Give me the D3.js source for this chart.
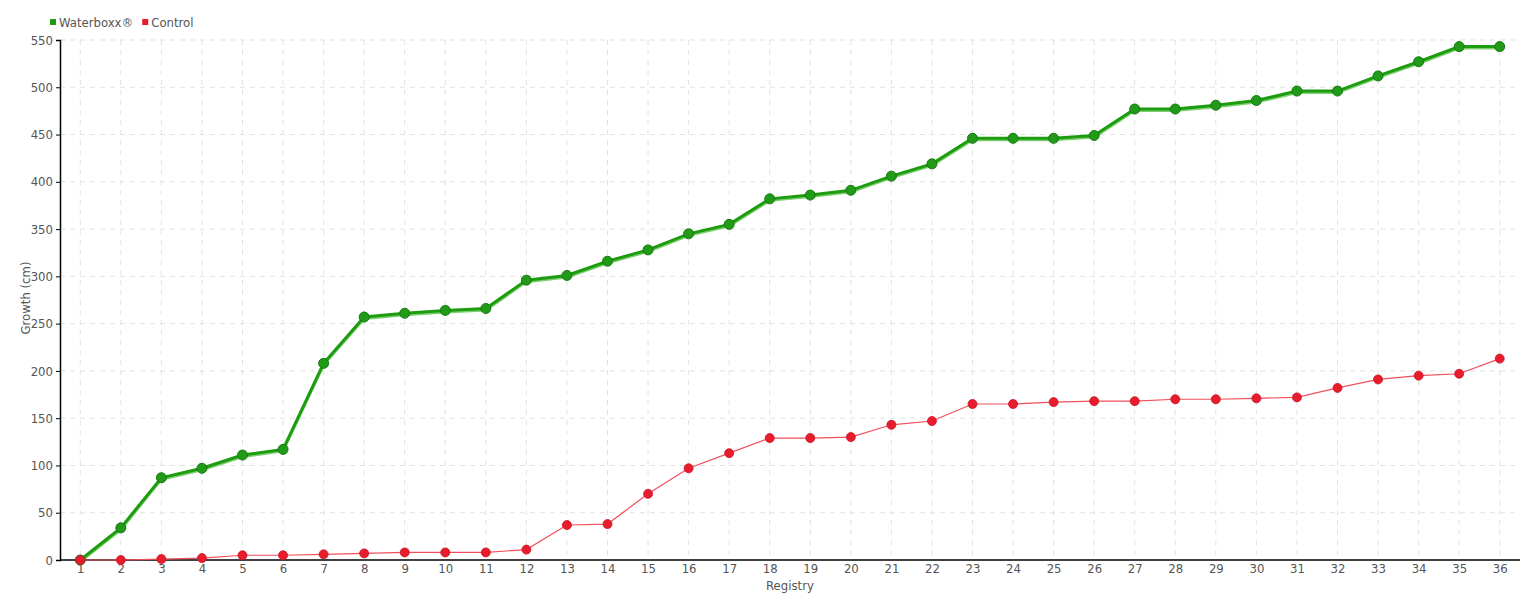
<!DOCTYPE html>
<html><head><meta charset="utf-8">
<script src="https://cdn.jsdelivr.net/npm/d3@7"></script>
<style>
body{margin:0;background:#fff;}
text{font-family:"Liberation Sans Narrow","DejaVu Sans Condensed","Roboto Condensed",sans-serif;fill:#555;}
</style></head>
<body><svg id="c" width="1540" height="600"></svg>
<script>
const registries = d3.range(1, 37).map(String);
const waterboxx = [0,34,87,97,111,117,208,257,261,264,266,296,301,316,328,345,355,382,386,391,406,419,446,446,446,449,477,477,481,486,496,496,512,527,543,543];
const control = [0,0,1,2,5,5,6,7,8,8,8,11,37,38,70,97,113,129,129,130,143,147,165,165,167,168,168,170,170,171,172,182,191,195,197,213];
const yTicks = [0,50,100,150,200,250,300,350,400,450,500,550];
const seriesNames = ["Waterboxx®","Control"];

const svg = d3.select("#c");
const L = 60, R = 1520, T = 40, B = 560;
const x = d3.scalePoint().domain(registries).range([L, R]).padding(0.5);
const y = d3.scaleLinear().domain([0, 550]).range([B, T]);

// grid
svg.append("g").selectAll("line").data(yTicks.slice(1)).join("line")
  .attr("x1", L).attr("x2", R).attr("y1", d => y(d)).attr("y2", d => y(d))
  .attr("stroke", "#e2e2e2").attr("stroke-dasharray", "5,5");
svg.append("g").selectAll("line").data(registries).join("line")
  .attr("x1", d => x(d)).attr("x2", d => x(d)).attr("y1", T).attr("y2", B)
  .attr("stroke", "#e2e2e2").attr("stroke-dasharray", "5,5");

// axes
const yAxis = svg.append("g").attr("transform", `translate(${L},0)`)
  .call(d3.axisLeft(y).tickValues(yTicks).tickSize(4).tickPadding(3));
yAxis.select(".domain").attr("stroke", "#000").attr("stroke-width", 1.5);
yAxis.selectAll(".tick line").attr("stroke", "#000");
yAxis.selectAll("text").style("font-size", "13px").attr("fill", "#555");

const xAxis = svg.append("g").attr("transform", `translate(0,${B})`)
  .call(d3.axisBottom(x).tickSize(0).tickPadding(4));
xAxis.select(".domain").attr("stroke", "#000").attr("stroke-width", 1.5).attr("d", `M${L},0H${R}`);
xAxis.selectAll("text").style("font-size", "13px").attr("fill", "#555");

svg.append("text").attr("x", 790).attr("y", 590).attr("text-anchor", "middle")
  .style("font-size", "13px").text("Registry");
svg.append("text").attr("transform", "translate(30,298) rotate(-90)").attr("text-anchor", "middle")
  .style("font-size", "13px").text("Growth (cm)");

// lines
const line = d3.line().x((d, i) => x(registries[i])).y(d => y(d));
svg.append("path").datum(waterboxx).attr("d", line).attr("fill", "none")
  .attr("stroke", "#7ccf6e").attr("stroke-width", 3).attr("transform", "translate(0,1.5)");
svg.append("path").datum(waterboxx).attr("d", line).attr("fill", "none")
  .attr("stroke", "#1d9c10").attr("stroke-width", 3);
svg.append("path").datum(control).attr("d", line).attr("fill", "none")
  .attr("stroke", "#f0505c").attr("stroke-width", 1.2);

svg.append("g").selectAll("circle").data(waterboxx).join("circle")
  .attr("cx", (d, i) => x(registries[i])).attr("cy", d => y(d)).attr("r", 5)
  .attr("fill", "#219a18").attr("stroke", "#167a10").attr("stroke-width", 1);
svg.append("g").selectAll("circle").data(control).join("circle")
  .attr("cx", (d, i) => x(registries[i])).attr("cy", d => y(d)).attr("r", 4.5)
  .attr("fill", "#e81c2c").attr("stroke", "#c81424").attr("stroke-width", 0.8);

// legend
const legColors = ["#1d9c10", "#e81c2c"];
let lx = 50;
seriesNames.forEach((n, i) => {
  svg.append("rect").attr("x", lx).attr("y", 19).attr("width", 6).attr("height", 6).attr("fill", legColors[i]);
  const t = svg.append("text").attr("x", lx + 9).attr("y", 27).style("font-size", "13px").text(n);
  lx += 9 + t.node().getComputedTextLength() + 9;
});
</script></body></html>
